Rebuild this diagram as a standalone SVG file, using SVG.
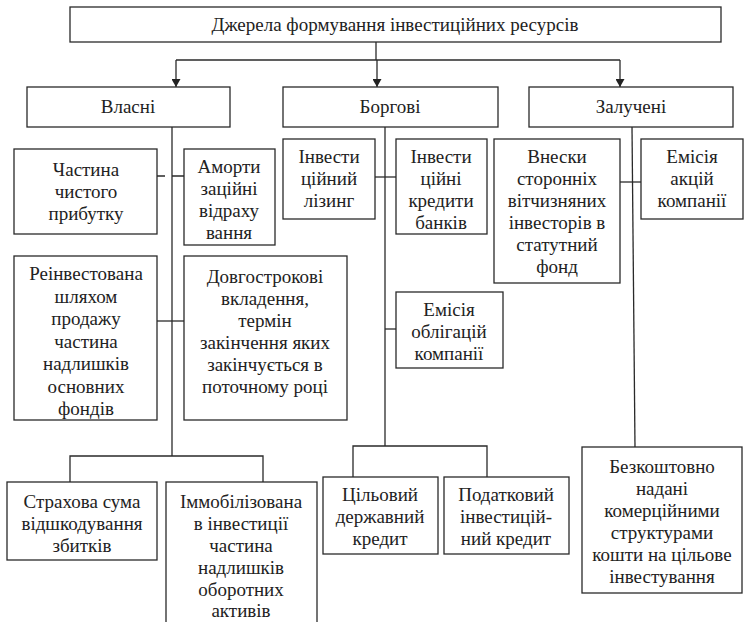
<svg xmlns="http://www.w3.org/2000/svg" width="746" height="622" viewBox="0 0 746 622">
<defs>
<marker id="ah" markerWidth="8" markerHeight="9" refX="8" refY="4.5" orient="auto" markerUnits="userSpaceOnUse">
<path d="M0,0 L8,4.5 L0,9 Z" fill="#222"/>
</marker>
</defs>
<rect width="746" height="622" fill="#fff"/>
<g id="connectors" stroke="#2a2a2a" stroke-width="1.3" fill="none">
<path d="M376,42 V60"/>
<path d="M176,60 H620"/>
<path d="M176,60 V87" marker-end="url(#ah)"/>
<path d="M377,60 V87" marker-end="url(#ah)"/>
<path d="M620,60 V87" marker-end="url(#ah)"/>
<path d="M172,127 V456"/>
<path d="M70,482 V456 H263 V482"/>
<path d="M157,176 H165 M172,176 H184"/>
<path d="M157,321 H184"/>
<path d="M385,127 V446"/>
<path d="M353,477 V446 H487 V477"/>
<path d="M375,177 H396"/>
<path d="M385,329 H396"/>
<path d="M632,127 L635,447"/>
<path d="M620,182 H641"/>
</g>
<g fill="#fff" stroke="#2a2a2a" stroke-width="1.3">
<rect id="r-root" x="70" y="7" width="651" height="35"/>
<rect id="r-vlasni" x="27" y="87" width="203" height="40"/>
<rect id="r-borgovi" x="283" y="87" width="215" height="40"/>
<rect id="r-zaluch" x="529" y="87" width="204" height="40"/>
<rect id="r-chastyna" x="14" y="149" width="143" height="85"/>
<rect id="r-amort" x="184" y="149" width="91" height="96"/>
<rect id="r-lizyng" x="283" y="139" width="92" height="80"/>
<rect id="r-kredyty" x="396" y="139" width="91" height="95"/>
<rect id="r-vnesky" x="494" y="139" width="126" height="144"/>
<rect id="r-akcii" x="641" y="139" width="102" height="80"/>
<rect id="r-reinv" x="14" y="256" width="143" height="164"/>
<rect id="r-dovgo" x="184" y="256" width="163" height="164"/>
<rect id="r-oblig" x="396" y="292" width="107" height="76"/>
<rect id="r-strakh" x="7" y="482" width="150" height="78"/>
<rect id="r-immob" x="166" y="482" width="151" height="150"/>
<rect id="r-cilovyi" x="323" y="477" width="115" height="77"/>
<rect id="r-podatk" x="444" y="477" width="125" height="77"/>
<rect id="r-bezk" x="582" y="447" width="160" height="146"/>
</g>
<g fill="#222" text-anchor="middle" font-size="19">
<g id="n-root"><text font-family="Liberation Serif" x="395" y="31">Джерела формування інвестиційних ресурсів</text></g>
<g id="n-vlasni"><text font-family="Liberation Serif" x="128" y="113">Власні</text></g>
<g id="n-borgovi"><text font-family="Liberation Serif" x="390" y="113">Боргові</text></g>
<g id="n-zaluch"><text font-family="Liberation Serif" x="631" y="113">Залучені</text></g>
<g id="n-chastyna"><text font-family="Liberation Serif" x="86" y="176">Частина</text><text font-family="Liberation Serif" x="86" y="198">чистого</text><text font-family="Liberation Serif" x="86" y="220">прибутку</text></g>
<g id="n-amort"><text font-family="Liberation Serif" x="229" y="173">Аморти</text><text font-family="Liberation Serif" x="229" y="195">заційні</text><text font-family="Liberation Serif" x="229" y="217">відраху</text><text font-family="Liberation Serif" x="229" y="239">вання</text></g>
<g id="n-lizyng"><text font-family="Liberation Serif" x="329" y="163">Інвести</text><text font-family="Liberation Serif" x="329" y="185">ційний</text><text font-family="Liberation Serif" x="329" y="207">лізинг</text></g>
<g id="n-kredyty"><text font-family="Liberation Serif" x="441" y="163">Інвести</text><text font-family="Liberation Serif" x="441" y="185">ційні</text><text font-family="Liberation Serif" x="441" y="207">кредити</text><text font-family="Liberation Serif" x="441" y="229">банків</text></g>
<g id="n-vnesky"><text font-family="Liberation Serif" x="557" y="163">Внески</text><text font-family="Liberation Serif" x="557" y="185">сторонніх</text><text font-family="Liberation Serif" x="557" y="207">вітчизняних</text><text font-family="Liberation Serif" x="557" y="229">інвесторів в</text><text font-family="Liberation Serif" x="557" y="251">статутний</text><text font-family="Liberation Serif" x="557" y="273">фонд</text></g>
<g id="n-akcii"><text font-family="Liberation Serif" x="692" y="163">Емісія</text><text font-family="Liberation Serif" x="692" y="185">акцій</text><text font-family="Liberation Serif" x="692" y="207">компанії</text></g>
<g id="n-reinv"><text font-family="Liberation Serif" x="86" y="280">Реінвестована</text><text font-family="Liberation Serif" x="86" y="302.5">шляхом</text><text font-family="Liberation Serif" x="86" y="325">продажу</text><text font-family="Liberation Serif" x="86" y="347.5">частина</text><text font-family="Liberation Serif" x="86" y="370">надлишків</text><text font-family="Liberation Serif" x="86" y="392.5">основних</text><text font-family="Liberation Serif" x="86" y="415">фондів</text></g>
<g id="n-dovgo"><text font-family="Liberation Serif" x="265" y="283">Довгострокові</text><text font-family="Liberation Serif" x="265" y="305">вкладення,</text><text font-family="Liberation Serif" x="265" y="327">термін</text><text font-family="Liberation Serif" x="265" y="349">закінчення яких</text><text font-family="Liberation Serif" x="265" y="371">закінчується в</text><text font-family="Liberation Serif" x="265" y="393">поточному році</text></g>
<g id="n-oblig"><text font-family="Liberation Serif" x="449" y="316">Емісія</text><text font-family="Liberation Serif" x="449" y="338">облігацій</text><text font-family="Liberation Serif" x="449" y="360">компанії</text></g>
<g id="n-strakh"><text font-family="Liberation Serif" x="82" y="508">Страхова сума</text><text font-family="Liberation Serif" x="82" y="530">відшкодування</text><text font-family="Liberation Serif" x="82" y="552">збитків</text></g>
<g id="n-immob"><text font-family="Liberation Serif" x="241" y="508">Іммобілізована</text><text font-family="Liberation Serif" x="241" y="530">в інвестиції</text><text font-family="Liberation Serif" x="241" y="552">частина</text><text font-family="Liberation Serif" x="241" y="574">надлишків</text><text font-family="Liberation Serif" x="241" y="596">оборотних</text><text font-family="Liberation Serif" x="241" y="617">активів</text></g>
<g id="n-cilovyi"><text font-family="Liberation Serif" x="380" y="501">Цільовий</text><text font-family="Liberation Serif" x="380" y="523">державний</text><text font-family="Liberation Serif" x="380" y="545">кредит</text></g>
<g id="n-podatk"><text font-family="Liberation Serif" x="506" y="501">Податковий</text><text font-family="Liberation Serif" x="506" y="523">інвестицій-</text><text font-family="Liberation Serif" x="506" y="545">ний кредит</text></g>
<g id="n-bezk"><text font-family="Liberation Serif" x="662" y="473">Безкоштовно</text><text font-family="Liberation Serif" x="662" y="495">надані</text><text font-family="Liberation Serif" x="662" y="517">комерційними</text><text font-family="Liberation Serif" x="662" y="539">структурами</text><text font-family="Liberation Serif" x="662" y="561">кошти на цільове</text><text font-family="Liberation Serif" x="662" y="583">інвестування</text></g>
</g>
</svg>
